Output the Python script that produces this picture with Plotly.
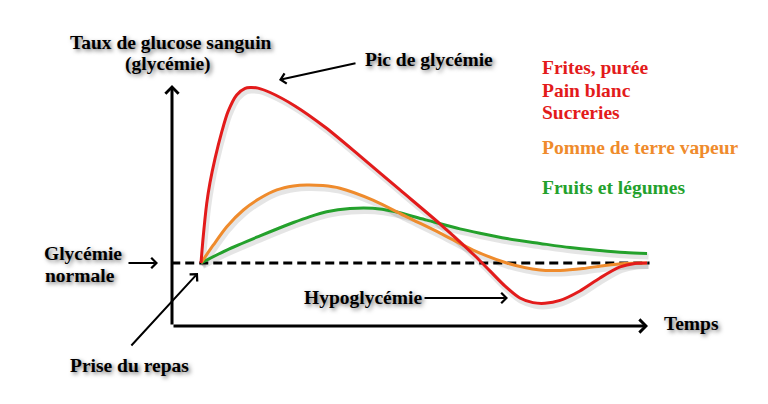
import plotly.graph_objects as go

# ───────────── data: time after meal (min) / blood glucose (g/L) ─────────────
red_t = [0, 0.9, 2.3, 3.6, 5.7, 8.4, 10.9, 14.4, 17.8, 19.8, 23, 27.9, 37.9, 50, 64.2,
         80.3, 96.5, 110.6, 116.6, 122.7, 128.7, 134, 138.8, 144.9, 152.9, 161, 169.1,
         175.1, 180]
red_g = [1.00, 1.12, 1.27, 1.364, 1.477, 1.597, 1.688, 1.764, 1.794, 1.798, 1.795, 1.775,
         1.714, 1.618, 1.486, 1.332, 1.177, 1.032, 0.964, 0.895, 0.841, 0.820, 0.817,
         0.830, 0.873, 0.932, 0.982, 0.998, 1.00]

orange_t = [0, 5, 10.4, 17.1, 23.8, 30.6, 37.3, 42.7, 49.2, 56.1, 69.4, 83, 96.5, 109.8,
            123.4, 136.8, 144.9, 154.2, 163, 171.1, 180]
orange_g = [1.00, 1.082, 1.165, 1.241, 1.294, 1.332, 1.35, 1.355, 1.352, 1.34, 1.286,
            1.21, 1.136, 1.059, 1.00, 0.968, 0.966, 0.975, 0.989, 0.998, 1.00]

green_t = [0, 10.4, 23.8, 37.3, 44, 50.7, 60.1, 69.4, 77.6, 91.1, 104.5, 112.6, 123.4,
           136.8, 148.9, 161, 171.1, 180]
green_g = [1.00, 1.059, 1.123, 1.184, 1.211, 1.233, 1.248, 1.249, 1.235, 1.195, 1.155,
           1.135, 1.111, 1.089, 1.070, 1.057, 1.048, 1.043]

normal_t = [-12, 181]
normal_g = [1.0, 1.0]

legend_red = ["Frites, purée", "Pain blanc", "Sucreries"]
legend_orange = "Pomme de terre vapeur"
legend_green = "Fruits et légumes"

# ───────────── page geometry (window pixels, body has 8px margin) ─────────────
PAD = 8
W, H = 768 - PAD, 404 - PAD
X0_PX, PX_PER_MIN = 201, 2.478     # meal at x=201px
Y0_PX, PX_PER_GL = 263, 220        # normal glycemia at y=263px

def px(x):
    return (x - PAD) / W

def py(y):
    return 1 - (y - PAD) / H

x_range = [(PAD - X0_PX) / PX_PER_MIN, (PAD + W - X0_PX) / PX_PER_MIN]
y_range = [1 + (Y0_PX - PAD - H) / PX_PER_GL, 1 + (Y0_PX - PAD) / PX_PER_GL]

RED, ORANGE, GREEN = "#e31b1b", "#ef8b2c", "#24a12c"
SERIF = "Liberation Serif"
shadow = "2px 2px 4px rgba(0,0,0,0.55)"

fig = go.Figure()

# soft shadows under curves
for t, g in [(green_t, green_g), (orange_t, orange_g), (red_t, red_g)]:
    fig.add_trace(go.Scatter(
        x=[v + 1.5 / PX_PER_MIN for v in t], y=[v - 3 / PX_PER_GL for v in g], mode="lines",
        line=dict(color="rgba(0,0,0,0.10)", width=6, shape="spline", smoothing=0.8),
        hoverinfo="skip"))

fig.add_trace(go.Scatter(x=normal_t, y=normal_g, mode="lines",
                         line=dict(color="black", width=3, dash="9px,5px")))

for t, g, c in [(green_t, green_g, GREEN), (orange_t, orange_g, ORANGE), (red_t, red_g, RED)]:
    fig.add_trace(go.Scatter(x=t, y=g, mode="lines",
                             line=dict(color=c, width=3, shape="spline", smoothing=0.8)))

ann = []

# axes as arrows
ax_t = (172 - X0_PX) / PX_PER_MIN
ax_g = 1 + (Y0_PX - 326) / PX_PER_GL
ann.append(dict(x=ax_t, y=1 + (Y0_PX - 85) / PX_PER_GL, ax=ax_t, ay=ax_g,
                xref="x", yref="y", axref="x", ayref="y", text="", showarrow=True,
                arrowhead=4, arrowwidth=3, arrowsize=0.85, arrowcolor="black"))
ann.append(dict(x=(648 - X0_PX) / PX_PER_MIN, y=ax_g, ax=ax_t, ay=ax_g,
                xref="x", yref="y", axref="x", ayref="y", text="", showarrow=True,
                arrowhead=4, arrowwidth=3, arrowsize=0.85, arrowcolor="black"))

# pointer arrows (tail -> tip, in pixels)
for (x1, y1), (x2, y2) in [((357, 63), (279, 80)), ((127, 263), (158, 263)),
                           ((130, 347), (198, 273)), ((423, 298), (508, 298))]:
    ann.append(dict(x=px(x2), y=py(y2), xref="paper", yref="paper",
                    ax=x1 - x2, ay=y1 - y2, text="", showarrow=True,
                    arrowhead=4, arrowwidth=2, arrowsize=1, arrowcolor="black"))

def label(txt, x, y, color="black", anchor="center", shade=True):
    f = dict(family=SERIF, size=19.5, color=color)
    if shade:
        f["shadow"] = shadow
    ann.append(dict(x=px(x), y=py(y), xref="paper", yref="paper", text=f"<b>{txt}</b>",
                    showarrow=False, xanchor=anchor, yanchor="middle", font=f))

label("Taux de glucose sanguin", 171, 43)
label("(glycémie)", 168, 64)
label("Pic de glycémie", 363, 60, anchor="left")
label("Glycémie", 83, 253)
label("normale", 80, 275)
label("Prise du repas", 129, 365)
label("Hypoglycémie", 302, 297, anchor="left")
label("Temps", 662, 323, anchor="left")

for i, txt in enumerate(legend_red):
    label(txt, 540, [67, 90, 112][i], color=RED, anchor="left", shade=False)
label(legend_orange, 540, 147, color=ORANGE, anchor="left", shade=False)
label(legend_green, 540, 187, color=GREEN, anchor="left", shade=False)

fig.update_layout(
    width=W, height=H, autosize=False,
    margin=dict(l=0, r=0, t=0, b=0),
    paper_bgcolor="white", plot_bgcolor="white",
    showlegend=False, annotations=ann,
    xaxis=dict(range=x_range, visible=False, fixedrange=True),
    yaxis=dict(range=y_range, visible=False, fixedrange=True),
)

fig.write_html("out.html", config={"displayModeBar": False})
